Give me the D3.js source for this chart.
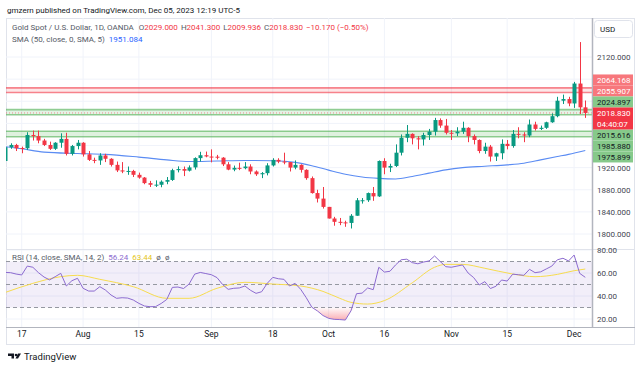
<!DOCTYPE html>
<html><head><meta charset="utf-8">
<script src="https://cdn.jsdelivr.net/npm/d3@7"></script>
<style>body{margin:0;background:#fff;overflow:hidden}text{font-family:Roboto,"Liberation Sans",Arial,sans-serif}</style>
</head><body><svg id="c" width="643" height="369"></svg>
<script>
// ---------- DATA ----------
const dates = ["07-12","07-13","07-14","07-17","07-18","07-19","07-20","07-21","07-24","07-25","07-26","07-27","07-28","07-31",
"08-01","08-02","08-03","08-04","08-07","08-08","08-09","08-10","08-11","08-14","08-15","08-16","08-17","08-18","08-21","08-22","08-23","08-24","08-25","08-28","08-29","08-30","08-31",
"09-01","09-04","09-05","09-06","09-07","09-08","09-11","09-12","09-13","09-14","09-15","09-18","09-19","09-20","09-21","09-22","09-25","09-26","09-27","09-28","09-29",
"10-02","10-03","10-04","10-05","10-06","10-09","10-10","10-11","10-12","10-13","10-16","10-17","10-18","10-19","10-20","10-23","10-24","10-25","10-26","10-27","10-30","10-31",
"11-01","11-02","11-03","11-06","11-07","11-08","11-09","11-10","11-13","11-14","11-15","11-16","11-17","11-20","11-21","11-22","11-23","11-24","11-27","11-28","11-29","11-30",
"12-01","12-04","12-05"];
const open = [1932,1957,1961,1955.5,1955,1979,1977,1969,1961,1954,1965,1972,1945,1959,
1965,1944,1934,1933,1942,1936,1925,1915,1913,1914,1907,1902,1892,1889,1889,1894.5,1897.7,1915.4,1917.4,1914.5,1920.4,1937.2,1942.4,
1940,1939.8,1938,1926,1916.5,1919.6,1919,1922,1913,1908,1910,1924,1934,1931,1930,1920,1925,1916,1901,1874,1864,
1849,1828,1822,1821,1820,1833,1861,1861,1874,1868,1932,1920,1923,1947,1974,1981,1973,1971,1979,1985,2006,1996,
1983,1982,1985,1992,1977,1970,1950,1958,1940,1946,1963,1959,1981,1980,1978,1998,1990,1992,2002,2013,2041,2044,
2036,2072,2029];
const high = [1959,1964,1963,1958,1984,1987,1987,1972,1967,1966,1982,1983,1961,1970,
1966,1950,1938,1946,1945,1937,1931,1930,1922,1916,1911,1903,1896,1897,1897,1903,1918,1922.3,1922,1924,1938.6,1948.6,1949,
1953,1943,1939,1930,1923.7,1928.9,1930,1926,1915,1912,1928,1937,1937,1947,1930,1933,1926,1917,1904,1880,1885,
1849,1831,1829,1824,1836,1865,1865,1875,1885,1933,1937,1927,1962,1980,1997,1982,1977,1983,1990,2010,2009,2008,
1988,1993,2003,1993,1980,1971,1965,1961,1947,1971,1970,1988,1993,1984,2007,2003,1996,2003,2018,2048,2052,2048,
2075,2147,2041.3];
const low = [1930,1954,1950,1946,1952,1969,1964,1959,1952,1952,1956,1942,1942,1953,
1940,1932,1928,1925,1930,1922,1912,1910,1907,1903,1900,1890,1885,1885,1884.5,1890,1896,1911.4,1904.7,1913,1916.5,1931,1938.7,
1929.5,1935,1922.8,1915.3,1913.5,1915.5,1917,1908,1905,1901,1906,1922,1928,1926,1913,1917,1911,1898,1873,1857,1846,
1828,1815,1816,1813,1810,1833,1855,1858,1860,1867,1908,1912,1921,1942,1966,1962,1953,1960,1970,1978,1992,1980,
1970,1977,1981,1966,1962,1946,1945,1931,1932,1935,1953,1956,1973,1966,1975,1987,1988,1990,2001,2011,2035,2031,
2028,2017,2009.936];
const close = [1957,1961,1955,1954.5,1979,1977,1969,1961,1954,1965,1972,1945,1959,1965,
1944,1934,1933,1942,1936,1925,1915,1913,1914,1907,1902,1892,1889,1889.2,1894.6,1897.5,1915.4,1917.4,1914.4,1920.4,1937.2,1942.4,1940.2,
1939.8,1937.9,1926,1916.4,1919.6,1919.3,1922,1913,1908,1910,1924,1934,1931,1930,1920,1925,1916,1901,1874,1864,1849,
1828,1822,1821,1820,1833,1861,1861,1874,1868,1932,1920,1923,1947,1974,1981,1973,1971,1979,1985,2006,1996,1983,
1982,1985,1992,1977,1970,1950,1958,1940,1946,1963,1959,1981,1980,1978,1998,1990,1992,2002,2013,2041,2044,2036,
2072,2029,2018.83];
// SMA(50) readings: bar position (0 = Jul 17) and value
const smaIdx = [-3,0,4,10,15,21,26,30,35,40,45,49,52,55,58,61,64,67,70,73,76,79,83,87,90,93,96,98,101];
const smaVal = [1958,1954,1948,1945.5,1944,1939,1934,1931,1932,1933,1932.5,1929.5,1923.5,1915.5,1908,1903,1900.5,1899.5,1904,1910,1916,1920,1922.5,1925,1928,1934,1940,1944,1951.08];
// RSI(14), one per bar
const rsiVal = [60.5,60.3,59.1,58.3,66,65,60.3,56.5,54,56.8,59.7,48.7,53.3,55.4,
46.7,44.3,44.3,48.1,45.2,40.9,38,38.5,38.2,36.5,33.6,31.3,30.7,30.8,33.5,37,47.5,47.8,46.5,50.4,59,60.5,59.5,
58.5,56,50,45.8,46.7,47,48.7,45,42.3,43.7,51,56.2,55,54.5,48.7,51,45.8,38.5,30.2,27,23,
20.6,19.7,19.5,19.1,27,42,42.5,47,45.5,65,60.8,61.5,67,71.5,72,69,68,69.5,70.5,74.8,70,65.5,
65,66,67,60,56,49.6,52.5,46.5,48.5,53.9,53,59,58.5,58,63.2,60.3,61,63.5,66,71.5,72.8,70.5,
75.6,59.7,56.24];
// RSI-based SMA readings
const rsiMaIdx = [-3,2,7,10,14,20,26,30,35,40,45,50,54,57,59,62,65,70,74,76,79,83,88,92,96,99,101];
const rsiMaVal = [43,51,56.8,58,54.5,48.1,38,38,46.7,51.9,50.4,48.7,44,38,34.5,33,36,51.5,65,67.5,67.5,64.1,59.1,56.8,58.8,62,63.44];
const tickDates = ["07-17","08-01","08-15","09-01","09-18","10-02","10-16","11-01","11-15","12-01"];
const tickLabels = ["17","Aug","15","Sep","18","Oct","16","Nov","15","Dec"];
const priceTicks = [1800,1840,1880,1920,1960,2000,2040,2080,2120];
const rsiTicks = [20,40,60,80];
const redZone = [2055.907, 2064.168];
const greenZone = [1975.899, 1985.880];
const greenZone2 = [2015.616, 2024.897];
const lastPrice = 2018.830;
const countdown = "04:40:07";
const ohlcLabels = ["O","H","L","C"];
const ohlcValues = ["2029.000","2041.300","2009.936","2018.830"];

// ---------- LAYOUT ----------
const svg = d3.select("#c");
const L = 6, R = 592, mainTop = 18, mainBot = 249, rsiTop = 250, rsiBot = 327, axBot = 345, edge = 635;
const UP = "#089981", DN = "#f23645";
const x = d3.scaleBand().domain(dates).range([2.17, 2.17 + dates.length * 5.58]).paddingInner(0.3).paddingOuter(0.15);
const xc = i => x(dates[i]) + x.bandwidth() / 2;
const OFF = 3; // array index of Jul 17
const y = d3.scaleLinear().domain([1800, 2120]).range([234, 57]);
const ry = d3.scaleLinear().domain([20, 80]).range([319, 250]);

const defs = svg.append("defs");
defs.append("clipPath").attr("id", "cm").append("rect").attr("x", L).attr("y", mainTop).attr("width", R - L).attr("height", mainBot - mainTop);
defs.append("clipPath").attr("id", "cr").append("rect").attr("x", L).attr("y", rsiTop).attr("width", R - L).attr("height", rsiBot - rsiTop);
const g = defs.append("linearGradient").attr("id", "os").attr("gradientUnits", "userSpaceOnUse")
  .attr("x1", 0).attr("x2", 0).attr("y1", ry(30)).attr("y2", ry(15));
g.append("stop").attr("offset", 0).attr("stop-color", "#f23645").attr("stop-opacity", 0.02);
g.append("stop").attr("offset", 1).attr("stop-color", "#f23645").attr("stop-opacity", 0.55);

// frame
svg.append("rect").attr("x", L + 0.5).attr("y", mainTop + 0.5).attr("width", edge - L - 1).attr("height", axBot - mainTop - 1)
  .attr("fill", "none").attr("stroke", "#e0e3eb");

// grid
const main = svg.append("g").attr("clip-path", "url(#cm)");
const rsiG = svg.append("g").attr("clip-path", "url(#cr)");
const tickIdx = tickDates.map(d => dates.indexOf(d));
[main, rsiG].forEach(gr => gr.selectAll("line.v").data(tickIdx).join("line")
  .attr("x1", i => xc(i)).attr("x2", i => xc(i)).attr("y1", mainTop).attr("y2", rsiBot).attr("stroke", "#f0f3fa"));
main.selectAll("line.h").data(priceTicks).join("line").attr("x1", L).attr("x2", R)
  .attr("y1", d => y(d)).attr("y2", d => y(d)).attr("stroke", "#f0f3fa");
rsiG.selectAll("line.h").data(rsiTicks).join("line").attr("x1", L).attr("x2", R)
  .attr("y1", d => ry(d)).attr("y2", d => ry(d)).attr("stroke", "#f0f3fa");

// zones
function zone(z, fill, stroke) {
  main.append("rect").attr("x", L).attr("width", R - L).attr("y", y(z[1])).attr("height", y(z[0]) - y(z[1])).attr("fill", fill);
  z.forEach(v => main.append("line").attr("x1", L).attr("x2", R).attr("y1", y(v)).attr("y2", y(v))
    .attr("stroke", stroke).attr("stroke-width", 1.6));
}
zone(redZone, "rgba(242,54,69,0.12)", "rgba(242,54,69,0.6)");
zone(greenZone, "rgba(76,175,80,0.18)", "rgba(76,175,80,0.6)");
zone(greenZone2, "rgba(76,175,80,0.15)", "rgba(76,175,80,0.6)");
main.append("line").attr("x1", L).attr("x2", R).attr("y1", y(lastPrice)).attr("y2", y(lastPrice))
  .attr("stroke", "rgba(242,54,69,0.55)").attr("stroke-dasharray", "1,2");

// SMA line
main.append("path").datum(smaIdx.map((d, k) => [xc(d + OFF), y(smaVal[k])]))
  .attr("d", d3.line().curve(d3.curveMonotoneX)).attr("fill", "none").attr("stroke", "#5b8cf3").attr("stroke-width", 1.1);

// candles
const bars = d3.range(dates.length);
const cg = main.selectAll("g.c").data(bars).join("g").attr("fill", i => close[i] >= open[i] ? UP : DN)
  .attr("stroke", i => close[i] >= open[i] ? UP : DN);
cg.append("line").attr("x1", i => Math.round(xc(i)) + 0.5).attr("x2", i => Math.round(xc(i)) + 0.5)
  .attr("y1", i => y(high[i])).attr("y2", i => y(low[i])).attr("stroke-width", 1);
cg.append("rect").attr("x", i => Math.round(xc(i)) + 0.5 - 2).attr("width", 4).attr("stroke", "none")
  .attr("y", i => y(Math.max(open[i], close[i])))
  .attr("height", i => Math.max(1, Math.abs(y(open[i]) - y(close[i]))));

// RSI pane
rsiG.append("rect").attr("x", L).attr("width", R - L).attr("y", ry(70)).attr("height", ry(30) - ry(70)).attr("fill", "rgba(126,87,194,0.1)");
rsiG.selectAll("line.b").data([70, 50, 30]).join("line").attr("x1", L).attr("x2", R)
  .attr("y1", d => ry(d)).attr("y2", d => ry(d)).attr("stroke", "#9598a1").attr("stroke-dasharray", "4,3");
rsiG.append("path").datum(bars).attr("fill", "url(#os)")
  .attr("d", d3.area().x(i => xc(i)).y0(ry(30)).y1(i => ry(Math.min(30, rsiVal[i]))));
rsiG.append("path").datum(rsiMaIdx.map((d, k) => [xc(d + OFF), ry(rsiMaVal[k])]))
  .attr("d", d3.line().curve(d3.curveMonotoneX)).attr("fill", "none").attr("stroke", "#f7dc4e").attr("stroke-width", 1);
rsiG.append("path").datum(bars).attr("d", d3.line().x(i => xc(i)).y(i => ry(rsiVal[i])))
  .attr("fill", "none").attr("stroke", "#8c6bd0").attr("stroke-width", 1);

// separators
svg.append("line").attr("x1", L).attr("x2", edge).attr("y1", 249.5).attr("y2", 249.5).attr("stroke", "#e0e3eb");
svg.append("line").attr("x1", L).attr("x2", edge).attr("y1", rsiBot + 0.5).attr("y2", rsiBot + 0.5).attr("stroke", "#b2b5be");
svg.append("line").attr("x1", R + 0.5).attr("x2", R + 0.5).attr("y1", mainTop).attr("y2", rsiBot).attr("stroke", "#b2b5be").attr("stroke-width", 1.5);

// price labels with stacking (computed first so that covered axis ticks can be hidden)
const labels = [
  {v: redZone[1], bg: "#f7777c", fg: "#fff"},
  {v: redZone[0], bg: "#f7777c", fg: "#fff"},
  {v: greenZone2[1], bg: "#86c98a", fg: "#131722"},
  {v: greenZone2[0], bg: "#86c98a", fg: "#131722"},
  {v: greenZone[1], bg: "#86c98a", fg: "#131722"},
  {v: greenZone[0], bg: "#86c98a", fg: "#131722"}
];
const H = 11;
const lastY = y(lastPrice);
const above = labels.filter(d => d.v > lastPrice).sort((a, b) => a.v - b.v);
const below = labels.filter(d => d.v < lastPrice).sort((a, b) => b.v - a.v);
let lim = lastY - H / 2;
above.forEach(d => { d.cy = Math.min(y(d.v), lim - H / 2); lim = d.cy - H / 2; });
lim = lastY + H / 2 + H;
below.forEach(d => { d.cy = Math.max(y(d.v), lim + H / 2); lim = d.cy + H / 2; });
const boxes = labels.map(d => [d.cy - H / 2, d.cy + H / 2]).concat([[lastY - H / 2, lastY + 1.5 * H]]);
const covered = v => boxes.some(b => y(v) > b[0] - 5 && y(v) < b[1] + 5);
const shownTicks = priceTicks.filter(v => !covered(v));

// axes
const fs = 8;
const ya = svg.append("g").attr("transform", `translate(${R + 5},0)`)
  .call(d3.axisRight(y).tickValues(shownTicks).tickSize(0).tickPadding(0).tickFormat(d3.format(".3f")));
const rya = svg.append("g").attr("transform", `translate(${R + 5},0)`)
  .call(d3.axisRight(ry).tickValues(rsiTicks).tickSize(0).tickPadding(0).tickFormat(d3.format(".2f")));
const xa = svg.append("g").attr("transform", `translate(0,${rsiBot + 4})`)
  .call(d3.axisBottom(x).tickValues(tickDates).tickSize(0).tickPadding(0).tickFormat((d, i) => tickLabels[i]));
[ya, rya, xa].forEach(a => { a.select(".domain").remove(); a.selectAll("text").attr("font-size", fs).attr("fill", "#434651").attr("font-family", null); });
xa.selectAll("text").attr("dy", "0.71em").attr("font-size", 8.5).attr("fill", "#131722");

const lg = svg.append("g");
labels.forEach(d => {
  lg.append("rect").attr("x", R + 1).attr("width", edge - R - 3).attr("y", d.cy - H / 2).attr("height", H).attr("fill", d.bg);
  lg.append("text").attr("x", R + 5).attr("y", d.cy).attr("dy", "0.35em").attr("font-size", fs).attr("fill", d.fg).text(d3.format(".3f")(d.v));
});
lg.append("rect").attr("x", R + 1).attr("width", edge - R - 3).attr("y", lastY - H / 2).attr("height", 2 * H).attr("fill", DN);
lg.append("text").attr("x", R + 5).attr("y", lastY).attr("dy", "0.35em").attr("font-size", fs).attr("fill", "#fff").text(d3.format(".3f")(lastPrice));
lg.append("text").attr("x", R + 5).attr("y", lastY + H).attr("dy", "0.35em").attr("font-size", fs).attr("fill", "#fff").text(countdown);

// USD box
svg.append("rect").attr("x", 594.5).attr("y", 20.5).attr("width", 38).attr("height", 17).attr("rx", 3).attr("fill", "#fff").attr("stroke", "#e0e3eb");
svg.append("text").attr("x", 600).attr("y", 29).attr("dy", "0.35em").attr("font-size", fs).attr("fill", "#131722").text("USD");

// header texts
svg.append("text").attr("x", 7).attr("y", 10).attr("dy", "0.35em").attr("font-size", 8).attr("fill", "#131722")
  .text("gmzern published on TradingView.com, Dec 05, 2023 12:19 UTC-5");
const h1 = svg.append("text").attr("x", 12).attr("y", 27.5).attr("dy", "0.35em").attr("font-size", 8).attr("fill", "#555a66");
h1.append("tspan").text("Gold Spot / U.S. Dollar, 1D, OANDA ");
ohlcLabels.forEach((l, k) => {
  h1.append("tspan").attr("dx", 3).text(l);
  h1.append("tspan").attr("fill", DN).text(ohlcValues[k]);
});
h1.append("tspan").attr("dx", 3).attr("fill", DN).text("\u221210.170 (\u22120.50%)");
const h2 = svg.append("text").attr("x", 12).attr("y", 39).attr("dy", "0.35em").attr("font-size", 8).attr("fill", "#555a66");
h2.append("tspan").text("SMA (50, close, 0, SMA, 5) ");
h2.append("tspan").attr("dx", 2).attr("fill", "#2962ff").text("1951.084");
const h3 = svg.append("text").attr("x", 12).attr("y", 257).attr("dy", "0.35em").attr("font-size", 8).attr("fill", "#555a66");
h3.append("tspan").text("RSI (14, close, SMA, 14, 2) ");
h3.append("tspan").attr("dx", 2).attr("fill", "#8c6bd0").text("56.24");
h3.append("tspan").attr("dx", 4).attr("fill", "#e6c620").text("63.44");
h3.append("tspan").attr("dx", 4).text("\u00f8");
h3.append("tspan").attr("dx", 4).text("\u00f8");

// TradingView logo
const lo = svg.append("g").attr("fill", "#131722");
lo.append("path").attr("d", "M8,353.5h6v5h-2.5v-2.5h-3.5z");
lo.append("circle").attr("cx", 16).attr("cy", 355).attr("r", 1.3);
lo.append("path").attr("d", "M18,353.5h3l-3,5h-2.5z");
svg.append("text").attr("x", 24).attr("y", 357).attr("dy", "0.35em").attr("font-size", 9.5).attr("fill", "#131722").text("TradingView");
</script></body></html>
